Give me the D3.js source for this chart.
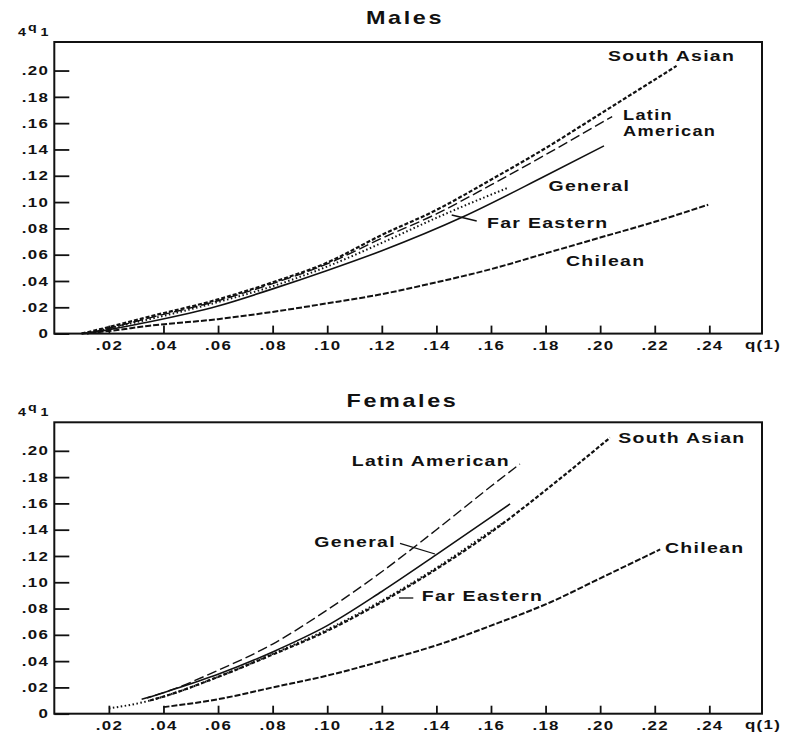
<!DOCTYPE html>
<html>
<head>
<meta charset="utf-8">
<script src="https://cdn.jsdelivr.net/npm/d3@7"></script>
<style>
  body { margin: 0; background: #fff; }
  text { font-family: "Liberation Sans", Arial, sans-serif; font-weight: bold; fill: #111; }
</style>
</head>
<body>
<div id="chart"></div>
<script>
// tick values
const xTicks = [0.02, 0.04, 0.06, 0.08, 0.10, 0.12, 0.14, 0.16, 0.18, 0.20, 0.22, 0.24];
const yTicks = [0, 0.02, 0.04, 0.06, 0.08, 0.10, 0.12, 0.14, 0.16, 0.18, 0.20];

// [q(1), 4q1] pairs - Males
const maleSouthAsian = [[0.010, 0.000], [0.020, 0.005], [0.035, 0.013], [0.060, 0.026], [0.080, 0.039], [0.100, 0.054], [0.120, 0.075], [0.140, 0.094], [0.160, 0.117], [0.180, 0.141], [0.200, 0.167], [0.228, 0.2035]];
const maleLatinAmerican = [[0.014, 0.001], [0.020, 0.004], [0.035, 0.012], [0.060, 0.025], [0.080, 0.038], [0.100, 0.053], [0.120, 0.0725], [0.140, 0.091], [0.160, 0.113], [0.180, 0.136], [0.2044, 0.165]];
const maleGeneral = [[0.012, 0.000], [0.020, 0.003], [0.035, 0.009], [0.060, 0.021], [0.080, 0.034], [0.100, 0.048], [0.120, 0.063], [0.150, 0.089], [0.180, 0.120], [0.2014, 0.1427]];
const maleFarEastern = [[0.012, 0.000], [0.020, 0.004], [0.035, 0.011], [0.060, 0.024], [0.080, 0.036], [0.100, 0.051], [0.120, 0.069], [0.140, 0.088], [0.150, 0.097], [0.1658, 0.1105]];
const maleChilean = [[0.010, 0.000], [0.020, 0.002], [0.035, 0.006], [0.060, 0.011], [0.080, 0.0165], [0.100, 0.023], [0.120, 0.030], [0.140, 0.039], [0.160, 0.049], [0.180, 0.061], [0.200, 0.073], [0.220, 0.085], [0.2396, 0.098]];

// Females
const femaleSouthAsian = [[0.035, 0.010], [0.040, 0.013], [0.060, 0.028], [0.080, 0.045], [0.100, 0.063], [0.120, 0.085], [0.140, 0.110], [0.160, 0.138], [0.180, 0.170], [0.2036, 0.210]];
const femaleLatinAmerican = [[0.032, 0.011], [0.040, 0.016], [0.060, 0.033], [0.080, 0.053], [0.100, 0.079], [0.120, 0.108], [0.140, 0.140], [0.160, 0.173], [0.1706, 0.190]];
const femaleGeneral = [[0.034, 0.012], [0.040, 0.016], [0.060, 0.030], [0.080, 0.047], [0.100, 0.067], [0.120, 0.093], [0.140, 0.121], [0.160, 0.1495], [0.167, 0.1596]];
const femaleFarEastern = [[0.020, 0.004], [0.035, 0.010], [0.040, 0.013], [0.060, 0.028], [0.080, 0.0455], [0.100, 0.064], [0.120, 0.086], [0.140, 0.111], [0.160, 0.139], [0.165, 0.146]];
const femaleChilean = [[0.040, 0.005], [0.060, 0.011], [0.080, 0.020], [0.100, 0.029], [0.120, 0.040], [0.140, 0.052], [0.160, 0.067], [0.182, 0.085], [0.200, 0.103], [0.222, 0.125]];

const seriesNames = ["Chilean", "General", "Far Eastern", "Latin American", "South Asian"];

// line look per series
const lineStyle = {
  "South Asian": { width: 2.2, dash: "4,2" },
  "Latin American": { width: 1.4, dash: "10,4" },
  "General": { width: 1.6, dash: null },
  "Far Eastern": { width: 2, dash: "1.5,2.5" },
  "Chilean": { width: 2, dash: "6,2" },
};

const SX = 1.3; // the scan is wide, stretch the type a bit

const svg = d3.select("#chart").append("svg")
  .attr("width", 790)
  .attr("height", 733);

const x = d3.scaleLinear().domain([0, 0.2593]).range([54.3, 762]);

function label(str, px, py, size, anchor, ls) {
  return svg.append("text")
    .attr("transform", `translate(${px},${py}) scale(${SX},1)`)
    .attr("text-anchor", anchor || "start")
    .style("font-size", size + "px")
    .style("letter-spacing", (ls == null ? 1 : ls) + "px")
    .text(str);
}

const fmt = (d) => (d === 0 ? "0" : d3.format(".2f")(d).replace(/^0/, ""));

function drawPanel(panel) {
  const y = d3.scaleLinear().domain([0, 0.2217]).range([panel.bottom, panel.top]);
  const g = svg.append("g");

  // frame
  g.append("rect")
    .attr("x", x.range()[0])
    .attr("y", panel.top)
    .attr("width", x.range()[1] - x.range()[0])
    .attr("height", panel.bottom - panel.top)
    .attr("fill", "none")
    .attr("stroke", "#111")
    .attr("stroke-width", 2);

  // y axis, ticks point inward
  g.append("g")
    .attr("transform", "translate(" + x.range()[0] + ",0)")
    .call(d3.axisLeft(y).tickValues(yTicks).tickSize(-15).tickPadding(4).tickFormat(fmt))
    .call((a) => a.select(".domain").remove())
    .call((a) => a.selectAll("line").attr("stroke", "#111").attr("stroke-width", 1.8))
    .call((a) => a.selectAll("text")
      .attr("transform", `scale(${SX},1)`)
      .style("font-size", "13px")
      .style("letter-spacing", "1px"));

  // x axis
  g.append("g")
    .attr("transform", "translate(0," + panel.bottom + ")")
    .call(d3.axisBottom(x).tickValues(xTicks).tickSize(-8).tickPadding(7).tickFormat(fmt))
    .call((a) => a.select(".domain").remove())
    .call((a) => a.selectAll("line").attr("stroke", "#111").attr("stroke-width", 1.8))
    .call((a) => a.selectAll("text")
      .attr("transform", `scale(${SX},1)`)
      .style("font-size", "13px")
      .style("letter-spacing", "1px"));

  const line = d3.line()
    .x((d) => x(d[0]))
    .y((d) => y(d[1]))
    .curve(d3.curveMonotoneX);

  seriesNames.forEach((name) => {
    const st = lineStyle[name];
    g.append("path")
      .datum(panel.series[name])
      .attr("fill", "none")
      .attr("stroke", "#111")
      .attr("stroke-width", st.width)
      .attr("stroke-dasharray", st.dash)
      .attr("d", line);
  });

  // title and axis names
  label(panel.title, panel.titleX, panel.titleY, 18, "middle", 2);
  label("q(1)", 745, panel.bottom + 15.7, 13, "start", 1);

  const yl = svg.append("text")
    .attr("transform", `translate(18,${panel.top - 6.5}) scale(${SX},1)`)
    .style("font-size", "11px");
  yl.append("tspan").text("4");
  yl.append("tspan").attr("dx", 1.5).attr("dy", -5).text("q");
  yl.append("tspan").attr("dx", 3).attr("dy", 5).text("1");

  panel.labels.forEach((l) => label(l.text, l.x, l.y, l.size || 15, "start", 1));
  panel.leaders.forEach((p) => {
    svg.append("line")
      .attr("x1", p[0]).attr("y1", p[1])
      .attr("x2", p[2]).attr("y2", p[3])
      .attr("stroke", "#111")
      .attr("stroke-width", 1.3);
  });
}

drawPanel({
  title: "Males",
  titleX: 405,
  titleY: 24,
  top: 42,
  bottom: 333.6,
  series: {
    "South Asian": maleSouthAsian,
    "Latin American": maleLatinAmerican,
    "General": maleGeneral,
    "Far Eastern": maleFarEastern,
    "Chilean": maleChilean,
  },
  labels: [
    { text: "South Asian", x: 608, y: 60.5 },
    { text: "Latin", x: 623, y: 119.5, size: 14 },
    { text: "American", x: 623, y: 136, size: 14 },
    { text: "General", x: 548.5, y: 190.7 },
    { text: "Far Eastern", x: 487, y: 228.3 },
    { text: "Chilean", x: 566, y: 265.7 },
  ],
  leaders: [[451.7, 215, 476.7, 221]],
});

drawPanel({
  title: "Females",
  titleX: 402.5,
  titleY: 406.7,
  top: 422.3,
  bottom: 713.7,
  series: {
    "South Asian": femaleSouthAsian,
    "Latin American": femaleLatinAmerican,
    "General": femaleGeneral,
    "Far Eastern": femaleFarEastern,
    "Chilean": femaleChilean,
  },
  labels: [
    { text: "South Asian", x: 618.3, y: 443 },
    { text: "Latin American", x: 351.7, y: 466 },
    { text: "General", x: 314.3, y: 547.3 },
    { text: "Far Eastern", x: 421.7, y: 600.7 },
    { text: "Chilean", x: 665, y: 553.3 },
  ],
  leaders: [[400, 543.3, 435, 554], [399, 598, 413.3, 598]],
});
</script>
</body>
</html>
